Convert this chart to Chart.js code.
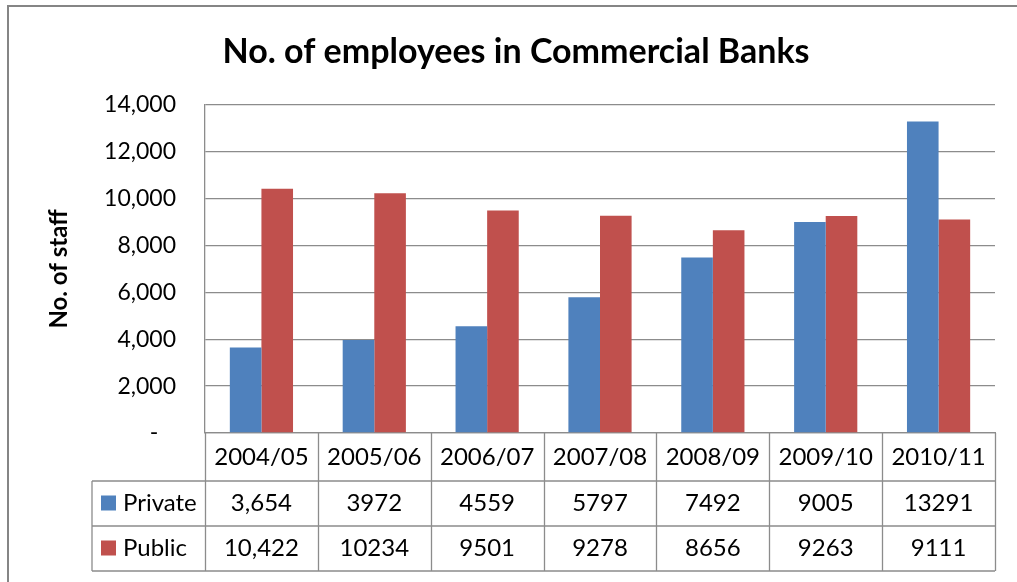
<!DOCTYPE html>
<html>
<head>
<meta charset="utf-8">
<script src="https://cdn.jsdelivr.net/npm/chart.js@4.4.1/dist/chart.umd.min.js"></script>
<style>
html,body{margin:0;padding:0;background:#fff}
</style>
</head>
<body>
<canvas id="chart" width="1017" height="582"></canvas>
<script>
const chartTitle = "No. of employees in Commercial Banks";
const years = ["2004/05","2005/06","2006/07","2007/08","2008/09","2009/10","2010/11"];
const privateStaff = [3654,3972,4559,5797,7492,9005,13291];
const publicStaff = [10422,10234,9501,9278,8656,9263,9111];
// table text as printed in the source sheet
const privateText = ["3,654","3972","4559","5797","7492","9005","13291"];
const publicText = ["10,422","10234","9501","9278","8656","9263","9111"];

const LINE = "#8c8c8c";
Chart.defaults.font.family = "Lato, 'Open Sans', sans-serif";
Chart.defaults.color = "#000";

// outer frame (only top + left edges show in the crop) and the title
const framePlugin = {
  id: "frame",
  beforeDraw(chart){
    const ctx = chart.ctx;
    ctx.save();
    ctx.fillStyle = "#fff";
    ctx.fillRect(0,0,chart.width,chart.height);
    ctx.strokeStyle = "#858585";
    ctx.lineWidth = 2;
    ctx.beginPath();
    ctx.moveTo(8, chart.height);
    ctx.lineTo(8, 6);
    ctx.lineTo(chart.width, 6);
    ctx.stroke();
    ctx.fillStyle = "#000";
    ctx.font = "bold 34px Lato";
    ctx.textAlign = "center";
    ctx.textBaseline = "middle";
    ctx.fillText(chartTitle, 516, 52);
    ctx.restore();
  }
};

// excel style data table under the axis
const tablePlugin = {
  id: "dataTable",
  afterDraw(chart){
    const ctx = chart.ctx, area = chart.chartArea, xs = chart.scales.x;
    const colW = (area.right - area.left) / years.length;
    const top = area.bottom, r1 = top + 48, r2 = r1 + 45, r3 = r2 + 45;
    const tableLeft = 92;
    ctx.save();
    ctx.strokeStyle = LINE;
    ctx.lineWidth = 1.3;
    ctx.beginPath();
    [r1, r2, r3].forEach(y => { ctx.moveTo(tableLeft, y); ctx.lineTo(area.right, y); });
    for (let i = 0; i <= years.length; i++) {
      const x = Math.round(area.left + i * colW) + 0.5;
      ctx.moveTo(x, top); ctx.lineTo(x, r3);
    }
    ctx.moveTo(tableLeft, r1); ctx.lineTo(tableLeft, r3);
    ctx.stroke();

    const texts = [privateText, publicText];
    ctx.font = "24px Lato";
    ctx.textBaseline = "middle";
    chart.data.datasets.forEach((ds, k) => {
      const yMid = k === 0 ? (r1 + r2) / 2 : (r2 + r3) / 2;
      ctx.fillStyle = ds.backgroundColor;
      ctx.fillRect(101, yMid - 8, 15, 15);
      ctx.fillStyle = "#000";
      ctx.textAlign = "left";
      ctx.fillText(ds.label, 123, yMid);
      ctx.textAlign = "center";
      ds.data.forEach((v, i) => {
        ctx.fillText(texts[k][i], xs.getPixelForValue(i), yMid);
      });
    });
    ctx.restore();
  }
};

new Chart(document.getElementById("chart"), {
  type: "bar",
  data: {
    labels: years,
    datasets: [
      { label: "Private", data: privateStaff, backgroundColor: "#4F81BD" },
      { label: "Public", data: publicStaff, backgroundColor: "#C0504D" }
    ]
  },
  options: {
    responsive: false,
    animation: false,
    layout: { padding: { left: 8, right: 22, top: 105, bottom: 0 } },
    datasets: { bar: { categoryPercentage: 0.56, barPercentage: 1 } },
    plugins: {
      legend: { display: false },
      tooltip: { enabled: false },
      title: { display: false }
    },
    scales: {
      x: {
        grid: { display: false, drawTicks: false },
        border: { display: true, color: LINE, width: 1.3 },
        ticks: { font: { size: 24 }, padding: 10, maxRotation: 0, autoSkip: false },
        afterFit(s){ s.height = 149; }
      },
      y: {
        min: 0, max: 14000,
        grid: { color: LINE, lineWidth: 1.3, drawTicks: false },
        border: { display: true, color: LINE, width: 1.3 },
        ticks: {
          stepSize: 2000,
          padding: 29,
          font: { size: 23 },
          callback: v => v === 0 ? "-   " : v.toLocaleString("en-US")
        },
        title: {
          display: true,
          text: "No. of staff",
          font: { size: 24, weight: "bold" },
          padding: { top: 37, bottom: 0 }
        },
        afterFit(s){ s.width = 197; }
      }
    }
  },
  plugins: [framePlugin, tablePlugin]
});
</script>
</body>
</html>
